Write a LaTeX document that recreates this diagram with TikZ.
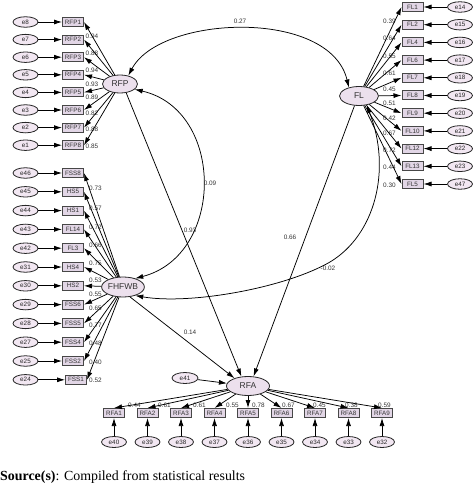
\documentclass[tikz,border=0pt]{standalone}
\usepackage{fontspec}
\setmainfont{Liberation Serif}
\newfontfamily\arialf{Liberation Sans}
\usetikzlibrary{arrows.meta,shapes.geometric}
\definecolor{latfill}{RGB}{236,224,237}
\definecolor{errfill}{RGB}{242,231,242}
\definecolor{boxfill}{RGB}{226,214,230}
\begin{document}
\begin{tikzpicture}[x=1pt,y=-1pt,font=\arialf,
  lat/.style={ellipse,draw=black!85,line width=0.8pt,fill=latfill,inner sep=0pt,font=\arialf\fontsize{8.5}{9}\selectfont,text=black!80},
  err/.style={ellipse,draw=black!85,line width=0.8pt,fill=errfill,minimum width=25pt,minimum height=10.5pt,inner sep=0pt,font=\arialf\fontsize{6.3}{7}\selectfont,text=black!85},
  obs/.style={rectangle,draw=black!72,line width=1pt,fill=boxfill,minimum width=21pt,minimum height=9pt,inner sep=0.5pt,font=\arialf\fontsize{6.3}{7}\selectfont,text=black!80},
  coef/.style={font=\arialf\fontsize{6.4}{7}\selectfont,text=black!80,inner sep=0pt},
  arr/.style={-{Latex[length=8pt,width=5pt]},line width=0.75pt},
  biarr/.style={{Latex[length=8pt,width=5pt]}-{Latex[length=8pt,width=5pt]},line width=0.75pt}]
\useasboundingbox (0,0) rectangle (474,489);

% latent variables
\node[lat,minimum width=35pt,minimum height=18pt] (RFP) at (120,84) {RFP};
\node[lat,minimum width=39pt,minimum height=19pt] (FL) at (359,96) {FL};
\node[lat,minimum width=40pt,minimum height=20pt] (FHFWB) at (123,287) {FHFWB};
\node[lat,minimum width=43pt,minimum height=19pt] (RFA) at (248,386) {RFA};
\node[err,minimum width=26pt,minimum height=11pt] (e41) at (185,378) {e41};

% RFP indicators
\foreach \n/\e/\c/\ly [count=\k from 0] in {RFP1/e8/0.94/36,RFP2/e7/0.88/53,RFP3/e6/0.94/70,RFP4/e5/0.93/84,RFP5/e4/0.89/97,RFP6/e3/0.82/113,RFP7/e2/0.88/129,RFP8/e1/0.85/146}{
  \pgfmathsetmacro{\yy}{22+17.6*\k}
  \node[obs] (\n) at (73,\yy) {\n};
  \node[err] (\e) at (25.5,\yy) {\e};
  \node[coef,anchor=west] (l\n) at (85.5,\ly) {\c};
  \draw[arr] (\e) -- (\n);
  \draw[arr] (RFP) -- (\n.east);
}

% FL indicators
\foreach \n/\e/\c/\ly [count=\k from 0] in {FL1/e14/0.39/21,FL2/e15/0.64/38,FL4/e16/0.55/56,FL6/e17/0.61/73,FL7/e18/0.45/89,FL8/e19/0.51/103,FL9/e20/0.42/118,FL10/e21/0.67/133,FL12/e22/0.72/150,FL13/e23/0.44/167,FL5/e47/0.30/185}{
  \pgfmathsetmacro{\yy}{7+17.7*\k}
  \node[obs] (\n) at (412.5,\yy) {\n};
  \node[err] (\e) at (460,\yy) {\e};
  \node[coef,anchor=west] (l\n) at (383,\ly) {\c};
  \draw[arr] (\e) -- (\n);
  \draw[arr] (FL) -- (\n.west);
}

% FHFWB indicators
\foreach \n/\e/\c/\ly/\bx [count=\k from 0] in {FSS8/e46/0.73/188/73,HS5/e45/0.57/208/73,HS1/e44/0.72/227/73,FL14/e43/0.66/245/73,FL3/e42/0.75/263/73,HS4/e31/0.53/280/73,HS2/e30/0.55/294/73,FSS6/e29/0.65/308/73,FSS5/e28/0.77/325/73,FSS4/e27/0.48/343/73,FSS2/e25/0.40/362/73,FSS1/e24/0.52/380/76}{
  \pgfmathsetmacro{\yy}{173+18.8*\k}
  \node[obs] (\n) at (\bx,\yy) {\n};
  \node[err] (\e) at (25.5,\yy) {\e};
  \node[coef,anchor=west] (l\n) at (89,\ly) {\c};
  \draw[arr] (\e) -- (\n);
  \draw[arr] (FHFWB) -- (\n.east);
}

% RFA indicators
\foreach \n/\e/\c/\lx [count=\k from 0] in {RFA1/e40/0.44/128,RFA2/e39/0.61/158,RFA3/e38/0.61/193,RFA4/e37/0.55/226,RFA5/e36/0.78/252,RFA6/e35/0.67/282,RFA7/e34/0.45/313,RFA8/e33/0.38/345,RFA9/e32/0.59/378}{
  \pgfmathsetmacro{\xx}{114+33.5*\k}
  \node[obs] (\n) at (\xx,413) {\n};
  \node[err,minimum height=11pt] (\e) at (\xx,442) {\e};
  \node[coef,anchor=west] (l\n) at (\lx,405) {\c};
  \draw[arr] (\e) -- (\n);
  \draw[arr] (RFA) -- (\n.north);
}
\draw[arr] (e41) -- (RFA);

% structural paths
\draw[arr] (RFP.-55) -- (RFA.125);
\draw[arr] (FL.-115) -- (RFA.60);
\draw[arr] (FHFWB.-55) -- (RFA.150);

% covariances
\draw[biarr] (RFP.45) .. controls (160,15) and (330,8) .. (FL.140);
\draw[biarr] (RFP.-20) .. controls (225,110) and (225,255) .. (FHFWB.35);
\draw[biarr] (FL.-50) .. controls (392,170) and (375,235) .. (330,262)
   .. controls (285,288) and (190,305) .. (FHFWB.-35);

% path labels
\node[coef] (c27) at (240,21) {0.27};
\node[coef] (c09) at (210,183) {0.09};
\node[coef] (c93) at (190,230) {0.93};
\node[coef] (c66) at (290,237) {0.66};
\node[coef] (c02) at (328,268) {-0.02};
\node[coef] (c14) at (190,332) {0.14};

% caption
\node[anchor=base west,inner sep=0pt,font=\rmfamily\fontsize{13.9}{16}\selectfont] (cap) at (0,480) {\textbf{Source(s)}: Compiled from statistical results};
\end{tikzpicture}
\end{document}
